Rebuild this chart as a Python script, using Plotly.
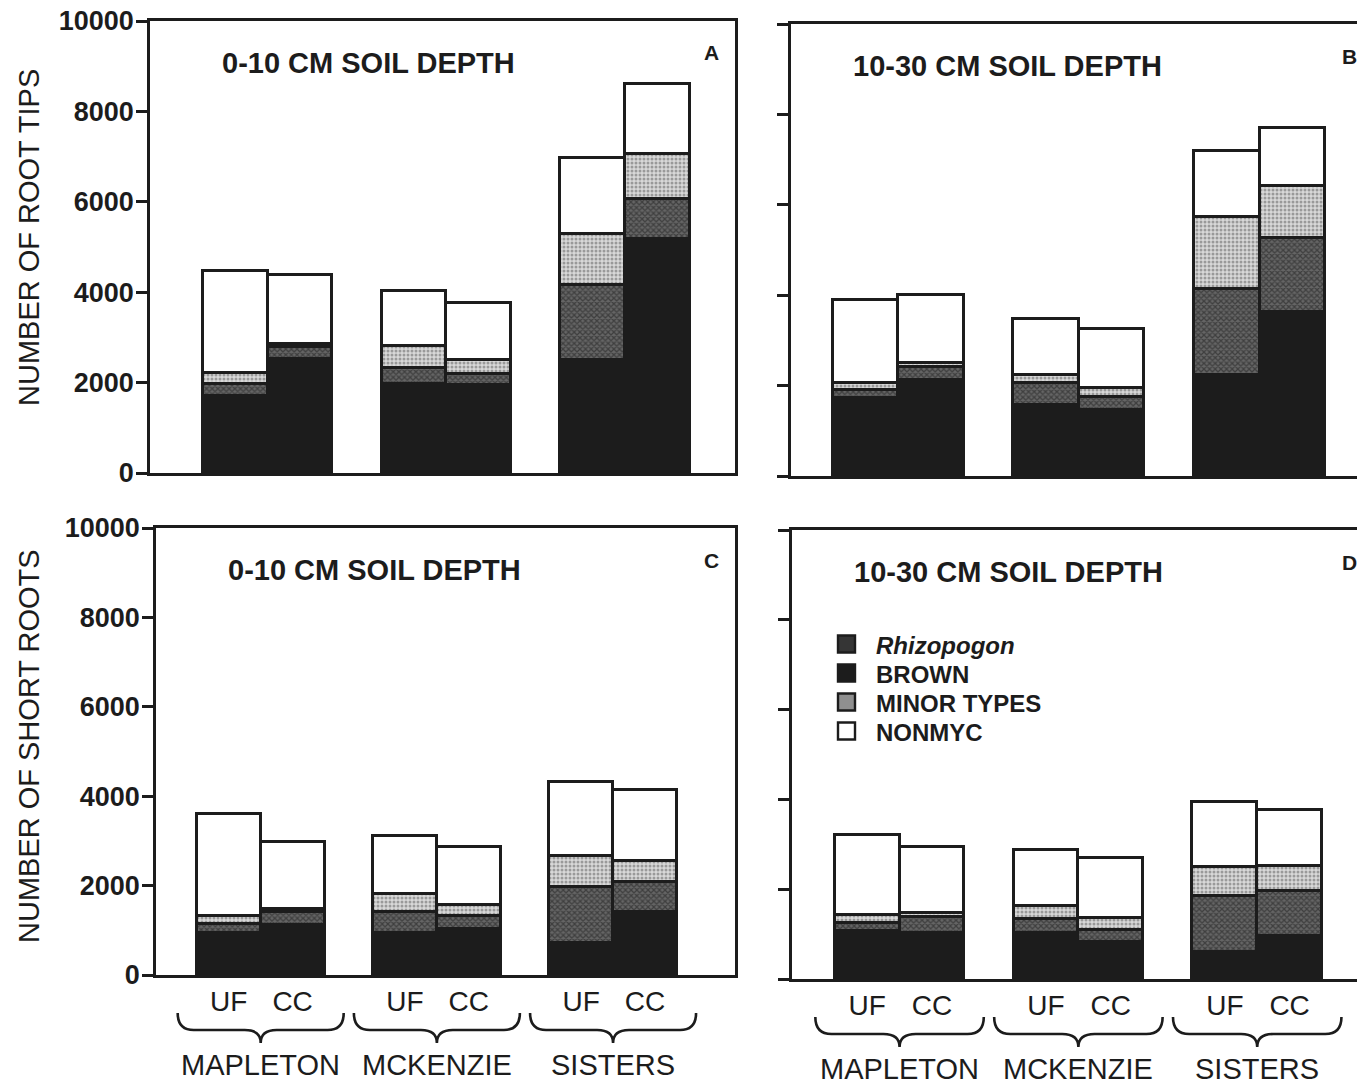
import plotly.graph_objects as go

W, H = 1357, 1085

# ---------------- data ----------------
sites = ["MAPLETON", "MCKENZIE", "SISTERS"]
treatments = ["UF", "CC"]
components = ["BROWN", "Rhizopogon", "MINOR TYPES", "NONMYC"]   # stacking order, bottom first
legend_order = ["Rhizopogon", "BROWN", "MINOR TYPES", "NONMYC"]
y_ticks = [0, 2000, 4000, 6000, 8000, 10000]
y_tick_labels = ["0", "2000", "4000", "6000", "8000", "10000"]

# order of bars: MAPLETON UF, MAPLETON CC, MCKENZIE UF, MCKENZIE CC, SISTERS UF, SISTERS CC
# Panel A: root tips, 0-10 cm
a_brown = [1700, 2520, 1970, 1950, 2500, 5180]
a_rhizo = [260, 260, 350, 240, 1650, 890]
a_minor = [260, 70, 500, 310, 1140, 980]
a_nonmyc = [2260, 1540, 1200, 1260, 1680, 1550]
# Panel B: root tips, 10-30 cm
b_brown = [1730, 2120, 1570, 1460, 2230, 3630]
b_rhizo = [170, 300, 480, 290, 1910, 1640]
b_minor = [160, 70, 180, 190, 1600, 1150]
b_nonmyc = [1840, 1510, 1250, 1320, 1460, 1290]
# Panel C: short roots, 0-10 cm
c_brown = [950, 1120, 950, 1020, 720, 1400]
c_rhizo = [190, 280, 450, 290, 1240, 680]
c_minor = [180, 70, 410, 260, 700, 470]
c_nonmyc = [2290, 1510, 1290, 1300, 1660, 1590]
# Panel D: short roots, 10-30 cm
d_brown = [1060, 1030, 1030, 830, 610, 960]
d_rhizo = [180, 360, 300, 260, 1230, 1010]
d_minor = [190, 90, 300, 260, 650, 550]
d_nonmyc = [1780, 1470, 1250, 1340, 1450, 1240]

panel_titles = ["0-10 CM SOIL DEPTH", "10-30 CM SOIL DEPTH", "0-10 CM SOIL DEPTH", "10-30 CM SOIL DEPTH"]
panel_letters = ["A", "B", "C", "D"]
y_titles = ["NUMBER OF ROOT TIPS", "NUMBER OF SHORT ROOTS"]

panels = [
    [a_brown, a_rhizo, a_minor, a_nonmyc],
    [b_brown, b_rhizo, b_minor, b_nonmyc],
    [c_brown, c_rhizo, c_minor, c_nonmyc],
    [d_brown, d_rhizo, d_minor, d_nonmyc],
]

# ---------------- layout helpers ----------------
FONT = "Liberation Sans, Arial, Helvetica, sans-serif"
INK = "#1c1c1c"
SITE_PITCH = 2.76


def X(px):
    return px / W


def Y(py):
    return 1 - py / H


# bar positions from category structure
positions = [si * SITE_PITCH + ti for si in range(len(sites)) for ti in range(len(treatments))]
tick_text = [t for _ in sites for t in treatments]

# plot-area boxes in screen pixels: (left, right, top, bottom) and x-range
boxes = [
    (150, 735, 21, 473, [-1.32, 7.72]),
    (791, 1357, 24, 476, [-1.14, 7.51]),
    (156, 735, 528, 975, [-1.14, 7.93]),
    (792, 1357, 530, 979, [-1.16, 7.56]),
]

styles = {
    "BROWN": dict(color=INK, pattern=dict(shape="")),
    "Rhizopogon": dict(color="#3c3c3c", pattern=dict(shape="x", fgcolor="#1a1a1a", bgcolor="#656565",
                                                     size=4, solidity=0.55)),
    "MINOR TYPES": dict(color="#c4c4c4", pattern=dict(shape=".", fgcolor="#5a5a5a", bgcolor="#d8d8d8",
                                                      size=4, solidity=0.45)),
    "NONMYC": dict(color="white", pattern=dict(shape="")),
}
legend_swatch = {"Rhizopogon": "#353535", "BROWN": INK, "MINOR TYPES": "#8f8f8f", "NONMYC": "white"}
legend_names = {"BROWN": "BROWN", "Rhizopogon": "<i>Rhizopogon</i>",
                "MINOR TYPES": "MINOR TYPES", "NONMYC": "NONMYC"}

fig = go.Figure()

for p, series in enumerate(panels):
    suffix = "" if p == 0 else str(p + 1)
    for comp, vals in zip(components, series):
        st = styles[comp]
        fig.add_trace(go.Bar(
            x=positions, y=vals, width=1,
            xaxis="x" + suffix, yaxis="y" + suffix,
            name=comp, showlegend=False,
            marker=dict(color=st["color"], pattern=st["pattern"], line=dict(color=INK, width=2.7)),
            hoverinfo="x+y",
        ))

layout = dict(
    width=W, height=H, margin=dict(l=0, r=0, t=0, b=0, autoexpand=False),
    paper_bgcolor="white", plot_bgcolor="white",
    barmode="stack", bargap=0, showlegend=False,
    font=dict(family=FONT, color=INK),
)

annotations = []
shapes = []
for p, (l, r, t, b, xr) in enumerate(boxes):
    suffix = "" if p == 0 else str(p + 1)
    left_panel = p in (0, 2)
    bottom_panel = p in (2, 3)
    layout["xaxis" + suffix] = dict(
        domain=[X(l), X(r)], anchor="y" + suffix, range=xr,
        showline=True, linewidth=2.6, linecolor=INK, mirror=True,
        showgrid=False, zeroline=False, ticks="",
        tickvals=positions, ticktext=tick_text, showticklabels=bottom_panel,
        tickfont=dict(size=28, family=FONT, color=INK), ticklabelstandoff=0,
        ticklabeloverflow="allow", automargin=False, fixedrange=True,
    )
    layout["yaxis" + suffix] = dict(
        domain=[Y(b), Y(t)], anchor="x" + suffix, range=[0, 10000],
        tickvals=y_ticks, ticktext=y_tick_labels, ticks="outside", ticklen=11, tickwidth=2.6, tickcolor=INK,
        showline=True, linewidth=2.6, linecolor=INK, mirror=left_panel,
        showgrid=False, zeroline=False, showticklabels=left_panel,
        tickfont=dict(size=27, family=FONT, color=INK, weight="bold"), ticklabelstandoff=-3,
        ticklabeloverflow="allow", automargin=False, fixedrange=True,
    )
    annotations.append(dict(
        text=panel_titles[p], xref="paper", yref="paper",
        x=X(l + (70 if left_panel else 60)), y=Y(t + 42), xanchor="left", yanchor="middle",
        showarrow=False, font=dict(size=29, family=FONT, color=INK, weight="bold"),
    ))
    annotations.append(dict(
        text=panel_letters[p], xref="paper", yref="paper",
        x=X(r - 24) if left_panel else X(1349), y=Y(t + 32),
        xanchor="center", yanchor="middle",
        showarrow=False, font=dict(size=21, family=FONT, color=INK, weight="bold"),
    ))
    if bottom_panel:
        hpx = b - t

        def dy(px):
            return -px / hpx
        for si, site in enumerate(sites):
            x0 = si * SITE_PITCH - 0.8
            x1 = si * SITE_PITCH + 1.8
            xm = (x0 + x1) / 2
            ytop, ymid, ytip = dy(38), dy(55), dy(68)
            a = 0.25
            path = (f"M {x0},{ytop} Q {x0},{ymid} {x0 + a},{ymid} L {xm - a},{ymid} "
                    f"Q {xm},{ymid} {xm},{ytip} Q {xm},{ymid} {xm + a},{ymid} "
                    f"L {x1 - a},{ymid} Q {x1},{ymid} {x1},{ytop}")
            shapes.append(dict(type="path", path=path, xref="x" + suffix, yref="y" + suffix + " domain",
                               line=dict(color=INK, width=2.6)))
            annotations.append(dict(
                text=site, xref="x" + suffix, yref="y" + suffix + " domain",
                x=xm, y=dy(90), xanchor="center", yanchor="middle", showarrow=False,
                font=dict(size=29, family=FONT, color=INK),
            ))

# legend (panel D), drawn as swatches + labels
LEG_X, LEG_Y0, LEG_DY, SW = 838, 644, 29, 17
for i, comp in enumerate(legend_order):
    cy = LEG_Y0 + i * LEG_DY
    shapes.append(dict(type="rect", xref="paper", yref="paper",
                       x0=X(LEG_X), x1=X(LEG_X + SW), y0=Y(cy + SW / 2), y1=Y(cy - SW / 2),
                       fillcolor=legend_swatch[comp], line=dict(color=INK, width=2.4)))
    annotations.append(dict(text=legend_names[comp], xref="paper", yref="paper",
                            x=X(874), y=Y(cy + 1), xanchor="left", yanchor="middle", showarrow=False,
                            font=dict(size=24, family=FONT, color=INK, weight="bold")))

# y-axis titles
annotations.append(dict(text=y_titles[0], xref="paper", yref="paper", x=X(29), y=Y(238),
                        textangle=-90, showarrow=False, xanchor="center", yanchor="middle",
                        font=dict(size=29, family=FONT, color=INK)))
annotations.append(dict(text=y_titles[1], xref="paper", yref="paper", x=X(29), y=Y(746),
                        textangle=-90, showarrow=False, xanchor="center", yanchor="middle",
                        font=dict(size=29, family=FONT, color=INK)))

layout["annotations"] = annotations
layout["shapes"] = shapes
fig.update_layout(**layout)

fig.write_html("out.html", config={"displayModeBar": False},
               post_script="document.body.style.margin='0';document.body.style.overflow='hidden';")
